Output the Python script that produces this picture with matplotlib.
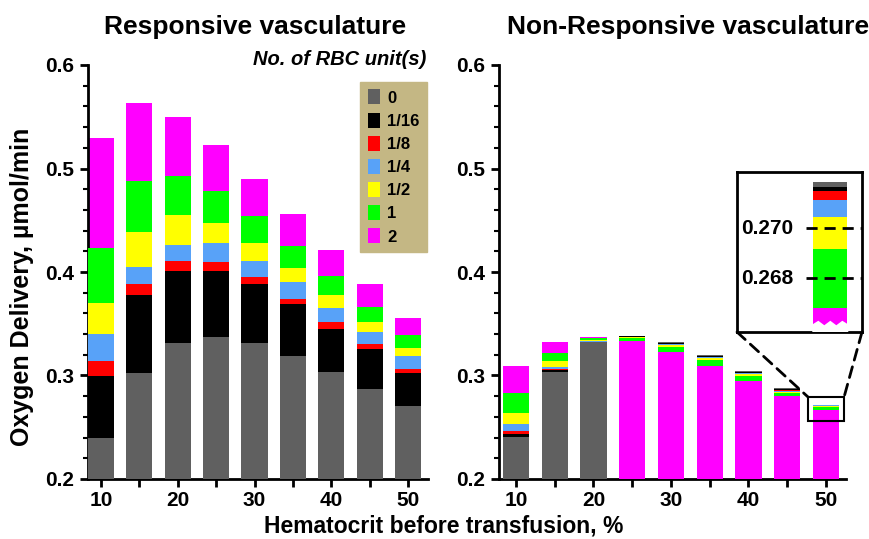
import numpy as np
import matplotlib
matplotlib.use("Agg")
import matplotlib.pyplot as plt
from matplotlib.patches import Patch, Rectangle, Polygon, ConnectionPatch
from matplotlib.ticker import MultipleLocator
import matplotlib.transforms as mtransforms

plt.rcParams['font.family'] = ['Liberation Sans', 'DejaVu Sans']
plt.rcParams['font.weight'] = 'bold'

# hematocrit before transfusion, %
hct = [10, 15, 20, 25, 30, 35, 40, 45, 50]
units = ['0', '1/16', '1/8', '1/4', '1/2', '1', '2']
unit_colors = ['#606060', '#000000', '#ff0000', '#58a2f8', '#ffff00', '#00ff00', '#ff00ff']

# oxygen delivery (umol/min), responsive vasculature, one list per number of RBC units
resp_0 = [0.240, 0.302, 0.331, 0.3375, 0.331, 0.319, 0.303, 0.2866, 0.2708]
resp_1_16 = [0.300, 0.378, 0.401, 0.401, 0.388, 0.369, 0.345, 0.326, 0.302]
resp_1_8 = [0.314, 0.388, 0.411, 0.410, 0.395, 0.374, 0.352, 0.330, 0.3066]
resp_1_4 = [0.340, 0.405, 0.426, 0.428, 0.411, 0.390, 0.3655, 0.342, 0.3188]
resp_1_2 = [0.370, 0.4386, 0.4548, 0.4477, 0.428, 0.404, 0.3775, 0.352, 0.327]
resp_1 = [0.423, 0.488, 0.493, 0.478, 0.454, 0.4254, 0.396, 0.366, 0.339]
resp_2 = [0.529, 0.563, 0.550, 0.523, 0.490, 0.4557, 0.421, 0.388, 0.3556]

# non-responsive vasculature
nonresp_0 = [0.2406, 0.3034, 0.3321, 0.3385, 0.3324, 0.3198, 0.3040, 0.2876, 0.27185]
nonresp_1_16 = [0.2435, 0.3053, 0.3325, 0.3378, 0.3314, 0.3188, 0.3034, 0.2867, 0.27166]
nonresp_1_8 = [0.2464, 0.3063, 0.3328, 0.3375, 0.3307, 0.3182, 0.3027, 0.2860, 0.27149]
nonresp_1_4 = [0.2528, 0.3082, 0.3331, 0.3372, 0.3300, 0.3176, 0.3021, 0.2854, 0.27113]
nonresp_1_2 = [0.2641, 0.3140, 0.3345, 0.3368, 0.3291, 0.3166, 0.3012, 0.2844, 0.27046]
nonresp_1 = [0.2834, 0.3220, 0.3358, 0.3362, 0.3275, 0.3147, 0.2992, 0.2828, 0.26917]
nonresp_2 = [0.3095, 0.3321, 0.3375, 0.3336, 0.3230, 0.3095, 0.2950, 0.2802, 0.26682]

resp = [resp_0, resp_1_16, resp_1_8, resp_1_4, resp_1_2, resp_1, resp_2]
nonresp = [nonresp_0, nonresp_1_16, nonresp_1_8, nonresp_1_4, nonresp_1_2, nonresp_1, nonresp_2]

bar_w = 3.4


def overlap_bars(ax, data, idx):
    # bars start at zero and overlap; the smallest value sits in front
    for i in idx:
        vals = [d[i] for d in data]
        order = np.argsort(vals)[::-1]
        for k, j in enumerate(order):
            ax.bar(hct[i], vals[j], width=bar_w, color=unit_colors[j], linewidth=0, zorder=2 + k)


def style_axis(ax, xlo):
    ax.set_ylim(0.2, 0.6)
    ax.set_xlim(xlo, 52.6)
    ax.spines['top'].set_visible(False)
    ax.spines['right'].set_visible(False)
    ax.spines['left'].set_linewidth(2)
    ax.spines['bottom'].set_linewidth(2)
    ax.yaxis.set_major_locator(MultipleLocator(0.1))
    ax.yaxis.set_minor_locator(MultipleLocator(0.02))
    ax.set_xticks(hct)
    ax.set_xticklabels([str(h) if h % 10 == 0 else '' for h in hct])
    ax.tick_params(axis='both', which='major', length=6, width=2, labelsize=15, pad=4)
    ax.tick_params(axis='x', which='major', pad=3)
    ax.tick_params(axis='y', which='minor', length=3.5, width=1.5)
    for lab in ax.get_xticklabels() + ax.get_yticklabels():
        lab.set_fontweight('bold')


fig = plt.figure(figsize=(8.7, 5.39), dpi=100)
ax1 = fig.add_axes([88 / 870, 60 / 539, 340 / 870, 414 / 539])
ax2 = fig.add_axes([499 / 870, 60 / 539, 347 / 870, 414 / 539])

all_idx = range(len(hct))
overlap_bars(ax1, resp, all_idx)
overlap_bars(ax2, nonresp, all_idx)
style_axis(ax1, 8.3)
style_axis(ax2, 7.8)

ax1.set_ylabel('Oxygen Delivery, \u00b5mol/min', fontsize=18, fontweight='bold')
ax1.yaxis.set_label_coords(-0.16, 0.465)
fig.text(444 / 870, 1 - 526 / 539, 'Hematocrit before transfusion, %', ha='center', va='center',
         fontsize=16.5, fontweight='bold')

ax1.text(0.49, 1.092, 'Responsive vasculature', transform=ax1.transAxes, ha='center', va='center',
         fontsize=19, fontweight='bold')
ax2.text(0.545, 1.092, 'Non-Responsive vasculature', transform=ax2.transAxes, ha='center',
         va='center', fontsize=19, fontweight='bold')
ax1.text(0.995, 1.013, 'No. of RBC unit(s)', transform=ax1.transAxes, ha='right', va='center',
         fontsize=14.5, fontweight='bold', fontstyle='italic')

handles = [Patch(facecolor=c, edgecolor='none') for c in unit_colors]
leg = ax1.legend(handles, units, loc='upper right', bbox_to_anchor=(0.997, 0.959),
                 borderaxespad=0, frameon=True, fancybox=False, facecolor='#c4b784',
                 edgecolor='#c4b784', framealpha=1, prop={'weight': 'bold', 'size': 12},
                 handlelength=0.7, handleheight=1.0, handletextpad=0.45, labelspacing=0.42,
                 borderpad=0.45)
leg.set_zorder(20)

# zoomed inset of the last non-responsive bar
axin = ax2.inset_axes([(737 - 499) / 347, (479 - 332) / 414, 125 / 347, 160 / 414])
axin.set_zorder(30)
overlap_bars(axin, nonresp, [len(hct) - 1])
axin.set_xlim(40.67, 53.17)
axin.set_ylim(0.26585, 0.27225)
axin.set_xticks([])
axin.set_yticks([])
for s in axin.spines.values():
    s.set_linewidth(2)
# jagged break at the bottom of the magenta segment
zx = np.linspace(50 - bar_w / 2 - 0.1, 50 + bar_w / 2 + 0.1, 7)
zy = [0.26615, 0.2663, 0.26612, 0.2663, 0.26612, 0.2663, 0.26615]
axin.add_patch(Polygon(list(zip(zx, zy)) + [(zx[-1], 0.2655), (zx[0], 0.2655)],
                       closed=True, facecolor='white', edgecolor='none', zorder=50))
blend = mtransforms.blended_transform_factory(axin.transAxes, axin.transData)
for yv, lab in [(0.270, '0.270'), (0.268, '0.268')]:
    axin.plot([0.55, 1.0], [yv, yv], transform=blend, color='black', lw=2,
              dashes=(4, 2.5), zorder=60, clip_on=False)
    axin.text(0.45, yv, lab, transform=blend, ha='right', va='center', fontsize=15,
              fontweight='bold')

ax2.add_patch(Rectangle((47.7, 0.256), 4.65, 0.0232, fill=False, edgecolor='black', lw=1.5,
                        zorder=40))
for xa, xb in [(0, 47.7), (1, 52.35)]:
    con = ConnectionPatch(xyA=(xa, 0), coordsA=axin.transAxes, xyB=(xb, 0.2792),
                          coordsB=ax2.transData, color='black', lw=2, linestyle=(0, (4, 2.5)))
    con.set_zorder(40)
    ax2.add_artist(con)

fig.savefig('out.png', dpi=100)
